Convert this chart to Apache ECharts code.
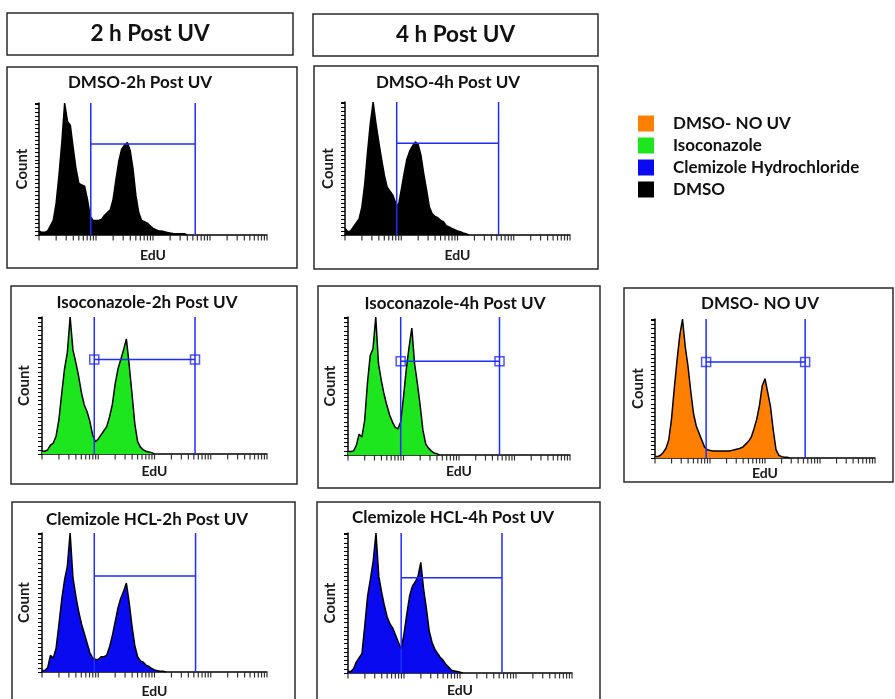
<!DOCTYPE html>
<html><head><meta charset="utf-8">
<script src="https://cdn.jsdelivr.net/npm/echarts@6/dist/echarts.min.js"></script>
<style>html,body{margin:0;padding:0;background:#fff}#c{width:895px;height:699px}</style>
</head><body><div id="c"></div>
<script>
// ================= DATA =================
// histogram bins: one value every 0.05 decade of EdU, first bin at EdU = 1 (values = % of axis height)
const binStep = 0.05;
const dmso2h = [3,2,2,3,7,11,24,45,70,100,86,83,66,50,39,38,37,27,14,11,11,11,12,15,17,19,27,42,56,65,68,70,64,50,30,17,11,10,9,7,5,4,3,3,2.5,2,1.5,1.2,1,1,1,1,0];
const dmso4h = [5,2.5,3,6,9,12,21,38,62,84,100,84,70,57,45,36,33,30,24,22,34,46,57,63,67,70,68,60,46,34,21,16,14,13,11,10,7,6,5,4,3,2.5,1.5,1,0];
const iso2h = [2,2,3,6.5,8,13,25,44,62,74,100,76,67,57,45,36,31,24,14,9,11,14,17,20,27,36,51,62,69,76,84,65,44,22,9,5,3,2,1.5,1,0];
const iso4h = [2.5,2.5,3,7,15,13,25,52,72,77,100,66,54,44,36,29,24,20,19,24,42,62,78,92,66,52,36,18,8,5,3,1.5,1,0];
const dmsoNoUV = [1,1,2,4,7,13,28,50,70,88,100,80,66,48,32,23,18,13,8,6,5.5,5,5,5,5,5,5,5,5.5,6,6.5,7,8,10,12,15,21,28,38,52,57,47,37,20,6,2,1,0.5,0.5,0];
const clem2h = [1,1,3,12,10,17,34,52,66,76,100,68,55,44,35,28,21,14,10,9,9,11,11,12,18,26,36,46,53,58,64,50,33,19,11,8,7,5,4,2.5,1.5,1,0.5,0.5,0];
const clem4h = [1,1,3,8,11,14,34,55,67,80,100,69,58,48,40,35,32,27,22,17,28,42,55,62,65,69,79,60,46,30,22,17,14,11,9,6,4,2,1.5,1,0.5,0];

const panelTitles = ['DMSO-2h Post UV','DMSO-4h Post UV','Isoconazole-2h Post UV','Isoconazole-4h Post UV','DMSO- NO UV','Clemizole HCL-2h Post UV','Clemizole HCL-4h Post UV'];
const panelSeries = ['DMSO','DMSO','Isoconazole','Isoconazole','DMSO- NO UV','Clemizole Hydrochloride','Clemizole Hydrochloride'];
const panelData = [dmso2h, dmso4h, iso2h, iso4h, dmsoNoUV, clem2h, clem4h];
// gate (EdU positive region) per panel
const gateLow  = [8.1, 8.3, 8.5, 8.9, 8.5, 8.5, 8.9];
const gateHigh = [550, 537, 525, 537, 537, 537, 562];
const gateBar  = [69, 69, 69, 68, 69, 69, 68];

const legendNames = ['DMSO- NO UV','Isoconazole','Clemizole Hydrochloride','DMSO'];
const headerTitles = ['2 h Post UV','4 h Post UV'];
const tickMantissa = [1,2,3,4,5,6,7,8,9];
const tickDecades = [1,10,100,1000];
const tickLast = 10000;
const axisXName = 'EdU';
const axisYName = 'Count';

// ================= STYLE / LAYOUT =================
const FONT = 'Lato';
const fillColor = {'DMSO':'#000000','Isoconazole':'#1ee61e','Clemizole Hydrochloride':'#0a0af0','DMSO- NO UV':'#ff7f00'};
const gateColor = '#1f2bff';
const layout = [
  {grid:[39,103,228,132], box:[7,67,290,201],  title:[140,83],  gy:9,  gx:13, sq:false},
  {grid:[345,102,225,133],box:[314,66,284,203],title:[448,83],  gy:9,  gx:13, sq:false},
  {grid:[42,317,225,137], box:[11,286,286,198],title:[147,303], gy:10, gx:10, sq:true},
  {grid:[348,317,222,138],box:[318,286,282,202],title:[455,304],gy:10, gx:9,  sq:true},
  {grid:[655,319,220,139],box:[624,288,269,194],title:[760,304],gy:9,  gx:8,  sq:true},
  {grid:[42,533,225,140], box:[12,502,283,215],title:[147,520], gy:10, gx:12, sq:false},
  {grid:[348,533,224,140],box:[317,502,283,215],title:[453,518],gy:10, gx:10, sq:false}
];
const headerBoxes = [[7,13,286,42],[313,14,285,42]];

// ================= BUILD =================
const tickVals = [];
tickDecades.forEach(d => tickMantissa.forEach(m => tickVals.push(m*d)));
tickVals.push(tickLast);

const grids=[], xAxes=[], yAxes=[], series=[], graphics=[];
const yNameStyle = {fontFamily:FONT, fontWeight:'bold', fontSize:15, color:'#1a1a1a'};
const xNameStyle = {fontFamily:FONT, fontWeight:'bold', fontSize:14, color:'#1a1a1a'};

layout.forEach((L,i)=>{
  grids.push({left:L.grid[0], top:L.grid[1], width:L.grid[2], height:L.grid[3], containLabel:false});
  xAxes.push({gridIndex:i, type:'log', logBase:10, min:1, max:10000,
    axisLine:{lineStyle:{color:'#000',width:1.5}}, axisTick:{show:false}, axisLabel:{show:false},
    splitLine:{show:false}, minorTick:{show:false},
    name:axisXName, nameLocation:'middle', nameGap:L.gx, nameTextStyle:xNameStyle});
  yAxes.push({gridIndex:i, type:'value', min:0, max:100, interval:3,
    axisLine:{show:true,lineStyle:{color:'#000',width:1.5}},
    axisTick:{show:true,length:4,lineStyle:{color:'#000',width:1}},
    axisLabel:{show:false}, splitLine:{show:false},
    name:axisYName, nameLocation:'middle', nameGap:L.gy, nameTextStyle:yNameStyle});
  const sname = panelSeries[i];
  const col = fillColor[sname];
  series.push({name:sname, type:'line', xAxisIndex:i, yAxisIndex:i, z:2,
    data: panelData[i].map((v,k)=>[Math.pow(10,k*binStep), v]),
    symbol:'none', showSymbol:false, color:col, itemStyle:{color:col},
    lineStyle:{color:'#000',width:1.5}, areaStyle:{color:col,opacity:1}, animation:false, silent:true});
  const gl=gateLow[i], gh=gateHigh[i], gb=gateBar[i];
  series.push({name:'gate'+i, type:'line', xAxisIndex:i, yAxisIndex:i, z:3,
    data:[[gl,0],[gl,100],[gl,gb],[gh,gb],[gh,100],[gh,0]],
    symbol:'none', showSymbol:false, color:gateColor, lineStyle:{color:gateColor,width:1.5}, silent:true, animation:false});
  if(L.sq){
    series.push({name:'gatemark'+i, type:'scatter', xAxisIndex:i, yAxisIndex:i, z:4,
      data:[[gl,gb],[gh,gb]], symbol:'rect', symbolSize:9, clip:false,
      itemStyle:{color:'rgba(0,0,0,0)', borderColor:gateColor, borderWidth:1.5}, silent:true, animation:false});
  }
  series.push({name:'ticks'+i, type:'scatter', xAxisIndex:i, yAxisIndex:i, z:4,
    data:tickVals.map(v=>[v,0]), symbol:'rect', symbolSize:[1.2,5], symbolOffset:[0,3], clip:false,
    itemStyle:{color:'#000'}, silent:true, animation:false});
  graphics.push({type:'rect', silent:true, z:-1, shape:{x:L.box[0],y:L.box[1],width:L.box[2],height:L.box[3]},
    style:{fill:'none', stroke:'#2b2b2b', lineWidth:1.5}});
  graphics.push({type:'text', silent:true, x:L.title[0], y:L.title[1],
    style:{text:panelTitles[i], fontFamily:FONT, fontWeight:'bold', fontSize:17, fill:'#111',
      textAlign:'center', textVerticalAlign:'middle', align:'center', verticalAlign:'middle'}});
});
headerBoxes.forEach((b,k)=>{
  graphics.push({type:'rect', silent:true, shape:{x:b[0],y:b[1],width:b[2],height:b[3]},
    style:{fill:'#fff', stroke:'#2b2b2b', lineWidth:1.5}});
  graphics.push({type:'text', silent:true, x:b[0]+b[2]/2, y:b[1]+b[3]/2,
    style:{text:headerTitles[k], fontFamily:FONT, fontWeight:'bold', fontSize:22.5, fill:'#111',
      textAlign:'center', textVerticalAlign:'middle', align:'center', verticalAlign:'middle'}});
});

const chart = echarts.init(document.getElementById('c'), null, {renderer:'canvas'});
chart.setOption({
  animation:false,
  backgroundColor:'#fff',
  grid:grids, xAxis:xAxes, yAxis:yAxes, series:series, graphic:graphics,
  legend:{
    data: legendNames.map(n=>({name:n, icon:'rect', itemStyle:{color:fillColor[n], borderWidth:0}})),
    orient:'vertical', left:633, top:110, itemWidth:16, itemHeight:16, itemGap:5,
    selectedMode:false,
    textStyle:{fontFamily:FONT, fontWeight:'bold', fontSize:17, color:'#111', padding:[0,0,0,14]}
  }
});
</script></body></html>
